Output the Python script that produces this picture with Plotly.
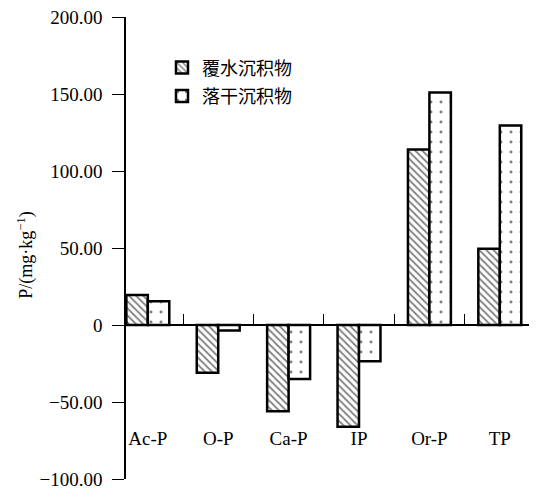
import plotly.graph_objects as go

categories = ["Ac-P", "O-P", "Ca-P", "IP", "Or-P", "TP"]
series_names = ["覆水沉积物", "落干沉积物"]
flooded = [19.5, -31, -56, -66, 114, 49.5]
dried = [15.5, -3.5, -35, -23.5, 151, 129.5]
ytick_vals = [-100, -50, 0, 50, 100, 150, 200]
ytick_text = ["\u2212100.00", "\u221250.00", "0", "50.00", "100.00", "150.00", "200.00"]
y_title = "P/(mg·kg<sup>\u22121</sup>)"

SERIF = "Liberation Serif, Times New Roman, serif"
CJK = "Noto Sans CJK SC, sans-serif"

fig = go.Figure()
fig.add_trace(go.Bar(
    x=categories, y=flooded, name=series_names[0], legendgroup="a",
    marker=dict(color="white", line=dict(color="black", width=2.5),
                pattern=dict(shape="\\", size=5, solidity=0.35, fgcolor="black", bgcolor="white")),
))
fig.add_trace(go.Bar(
    x=categories, y=dried, name=series_names[1], legendgroup="b",
    marker=dict(color="white", line=dict(color="black", width=2.5),
                pattern=dict(shape=".", size=10, solidity=0.07, fgcolor="black", bgcolor="white")),
))

fig.update_layout(
    width=529, height=485,
    margin=dict(l=118, r=2, t=9, b=14, autoexpand=False),
    paper_bgcolor="white", plot_bgcolor="white",
    barmode="group", bargap=0.39, bargroupgap=0,
    font=dict(family=SERIF, size=19, color="black"),
    showlegend=True,
    legend=dict(x=0.088, y=0.93, xanchor="left", yanchor="top",
                font=dict(family=CJK, size=18, color="black"),
                bgcolor="rgba(0,0,0,0)", tracegroupgap=2),
    xaxis=dict(
        type="category", range=[-0.31, 5.5],
        anchor="free", position=1/3,
        showline=True, linecolor="black", linewidth=1.5,
        ticks="inside", ticklen=10, tickwidth=1.2, tickcolor="black",
        tickson="boundaries", showgrid=False, zeroline=False,
        ticklabelstandoff=96, automargin=False,
        tickfont=dict(family=SERIF, size=19),
    ),
    yaxis=dict(
        range=[-100, 200], tickvals=ytick_vals, ticktext=ytick_text,
        showline=True, linecolor="black", linewidth=1.5,
        ticks="outside", ticklen=12, tickwidth=1.2, tickcolor="black",
        showgrid=False, zeroline=False, automargin=False,
        ticklabelstandoff=6, ticklabeloverflow="allow",
        tickfont=dict(family=SERIF, size=19),
    ),
    annotations=[dict(
        text=y_title, textangle=-90, xref="paper", yref="paper",
        x=-0.245, y=0.485, xanchor="center", yanchor="middle",
        showarrow=False, font=dict(family=SERIF, size=18),
    )],
)

fig.write_html("out.html")
